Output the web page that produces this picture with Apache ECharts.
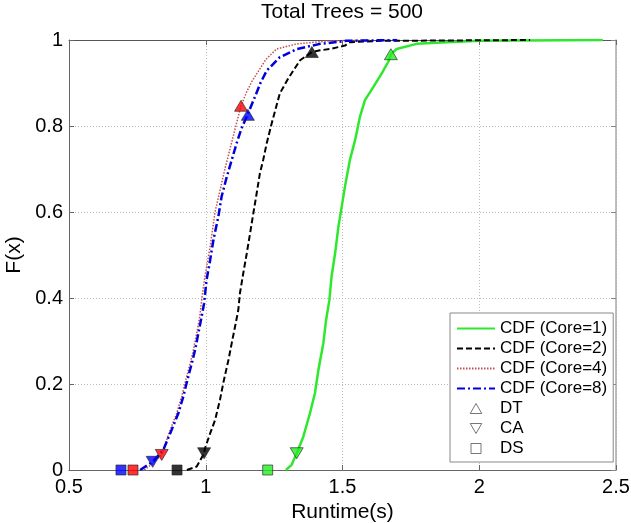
<!DOCTYPE html>
<html>
<head>
<meta charset="utf-8">
<script src="https://cdn.jsdelivr.net/npm/echarts@6/dist/echarts.min.js"></script>
<style>html,body{margin:0;padding:0;background:#fff}#c{width:631px;height:523px}</style>
</head>
<body>
<div id="c"></div>
<script>
// ---- data ----
const seriesNames = ['CDF (Core=1)', 'CDF (Core=2)', 'CDF (Core=4)', 'CDF (Core=8)'];
const markerNames = ['DT', 'CA', 'DS'];
const xTicks = [0.5, 1, 1.5, 2, 2.5];
const yTicks = [0, 0.2, 0.4, 0.6, 0.8, 1];

const core1X = [1.293, 1.314, 1.3325, 1.357, 1.381, 1.399, 1.412, 1.430, 1.440, 1.452, 1.460, 1.473, 1.485, 1.497, 1.509, 1.527, 1.546, 1.564, 1.582, 1.613, 1.643, 1.668, 1.677, 1.698, 1.771, 1.881, 2.003, 2.452];
const core1Y = [0, 0.012, 0.039, 0.078, 0.132, 0.178, 0.233, 0.295, 0.349, 0.395, 0.450, 0.504, 0.566, 0.612, 0.659, 0.721, 0.767, 0.822, 0.860, 0.891, 0.922, 0.950, 0.967, 0.979, 0.991, 0.995, 0.998, 1.0];

const core2X = [0.931, 0.967, 0.994, 0.997, 1.016, 1.034, 1.052, 1.064, 1.083, 1.095, 1.107, 1.119, 1.125, 1.137, 1.150, 1.162, 1.174, 1.186, 1.198, 1.210, 1.223, 1.241, 1.271, 1.302, 1.345, 1.388, 1.418, 1.454, 1.509, 1.527, 1.637, 2.186];
const core2Y = [0, 0.008, 0.039, 0.050, 0.085, 0.116, 0.163, 0.202, 0.256, 0.295, 0.333, 0.372, 0.411, 0.457, 0.504, 0.550, 0.597, 0.643, 0.690, 0.721, 0.760, 0.806, 0.876, 0.911, 0.953, 0.972, 0.976, 0.979, 0.987, 0.995, 0.998, 1.0];

const core4X = [0.775, 0.800, 0.839, 0.868, 0.894, 0.912, 0.930, 0.943, 0.955, 0.967, 0.978, 0.986, 0.997, 1.016, 1.034, 1.052, 1.070, 1.090, 1.110, 1.129, 1.150, 1.170, 1.186, 1.220, 1.259, 1.333, 1.454, 1.600];
const core4Y = [0, 0.012, 0.035, 0.090, 0.132, 0.171, 0.217, 0.248, 0.279, 0.318, 0.357, 0.400, 0.450, 0.519, 0.600, 0.650, 0.700, 0.750, 0.800, 0.847, 0.880, 0.905, 0.921, 0.955, 0.979, 0.991, 0.998, 1.0];

const core8X = [0.760, 0.806, 0.845, 0.875, 0.900, 0.918, 0.936, 0.949, 0.961, 0.973, 0.985, 0.994, 1.003, 1.016, 1.028, 1.046, 1.058, 1.077, 1.095, 1.113, 1.131, 1.150, 1.154, 1.180, 1.200, 1.223, 1.271, 1.333, 1.418, 1.515, 1.700];
const core8Y = [0, 0.019, 0.047, 0.093, 0.132, 0.171, 0.217, 0.248, 0.279, 0.318, 0.357, 0.388, 0.442, 0.488, 0.535, 0.589, 0.636, 0.682, 0.721, 0.760, 0.795, 0.822, 0.826, 0.868, 0.900, 0.929, 0.960, 0.979, 0.991, 0.998, 1.0];

// markers, one value per core (1, 2, 4, 8)
const dtX = [1.677, 1.388, 1.129, 1.154];
const dtY = [0.967, 0.972, 0.847, 0.826];
const caX = [1.3325, 0.994, 0.839, 0.806];
const caY = [0.039, 0.039, 0.035, 0.019];
const dsX = [1.2265, 0.895, 0.734, 0.690];
const dsY = [0, 0, 0, 0];

// ---- style ----
const FONT = '"Liberation Sans", Arial, Helvetica, sans-serif';
const lineColors = ['#2ee82e', '#000000', '#c0504d', '#0000dd'];
const markerColors = ['#22ee22', '#000000', '#ff0000', '#0000ff'];
const lineStyles = [
  {width: 2.5, type: 'solid'},
  {width: 2, type: [6, 3]},
  {width: 1.5, type: [1.5, 1.5]},
  {width: 2.5, type: [8, 3, 2, 3]}
];

const zip = (xs, ys) => xs.map((x, i) => [x, ys[i]]);
const curves = [zip(core1X, core1Y), zip(core2X, core2Y), zip(core4X, core4Y), zip(core8X, core8Y)];

const lineSeries = curves.map((d, i) => ({
  type: 'line', name: seriesNames[i], data: d, symbol: 'none', showSymbol: false,
  lineStyle: Object.assign({color: lineColors[i]}, lineStyles[i]),
  itemStyle: {color: lineColors[i]}, z: 2, animation: false, silent: true
}));

function markerData(xs, ys) {
  return xs.map((x, i) => ({
    value: [x, ys[i]],
    itemStyle: {color: markerColors[i], borderColor: '#222', borderWidth: 0.8}
  }));
}
const downTri = 'path://M0,0L10,0L5,8.66Z';
const upTri = 'path://M5,0L10,8.66L0,8.66Z';
const markerSeries = [
  {type: 'scatter', name: 'DT', data: markerData(dtX, dtY), symbol: 'triangle', symbolSize: [13, 11]},
  {type: 'scatter', name: 'CA', data: markerData(caX, caY), symbol: 'triangle', symbolRotate: 180, symbolSize: [13, 11]},
  {type: 'scatter', name: 'DS', data: markerData(dsX, dsY), symbol: 'rect', symbolSize: 10}
].map(s => Object.assign(s, {z: 5, clip: false, animation: false, silent: true, itemStyle: {color: '#fff', borderColor: '#555', borderWidth: 1}}));

const legendIconStyle = {color: '#fff', borderColor: '#555', borderWidth: 1};
const hiddenSymbol = {color: 'rgba(0,0,0,0)', borderColor: 'rgba(0,0,0,0)', borderWidth: 0, opacity: 0};

const chart = echarts.init(document.getElementById('c'), null, {renderer: 'canvas'});
chart.setOption({
  backgroundColor: '#fff',
  animation: false,
  title: {
    text: 'Total Trees = 500', left: 342, top: 2, padding: 0, textAlign: 'center',
    textStyle: {fontSize: 21, fontWeight: 'normal', color: '#000', fontFamily: FONT}
  },
  grid: {left: 69, right: 15, top: 40, bottom: 53, containLabel: false, outerBoundsMode: 'none'},
  legend: {
    orient: 'vertical', left: 450, top: 313, padding: [7, 6, 5, 6], itemGap: 3,
    itemWidth: 38, itemHeight: 10, selectedMode: false,
    backgroundColor: '#fff', borderColor: '#888', borderWidth: 1, borderRadius: 0,
    textStyle: {fontSize: 17, lineHeight: 17, color: '#000', fontFamily: FONT},
    data: [
      {name: seriesNames[0], itemStyle: hiddenSymbol},
      {name: seriesNames[1], itemStyle: hiddenSymbol},
      {name: seriesNames[2], itemStyle: hiddenSymbol},
      {name: seriesNames[3], itemStyle: hiddenSymbol},
      {name: markerNames[0], icon: upTri, itemStyle: legendIconStyle},
      {name: markerNames[1], icon: downTri, itemStyle: legendIconStyle},
      {name: markerNames[2], icon: 'path://M0,0L8,0L8,8L0,8Z', itemStyle: legendIconStyle}
    ]
  },
  xAxis: [{
    type: 'value', min: xTicks[0], max: xTicks[xTicks.length - 1], interval: xTicks[1] - xTicks[0],
    name: 'Runtime(s)', nameLocation: 'middle', nameGap: 23,
    nameTextStyle: {fontSize: 21, color: '#000', fontFamily: FONT},
    axisLine: {show: true, onZero: false, lineStyle: {color: '#666', width: 1}},
    axisTick: {show: true, inside: true, length: 5, lineStyle: {color: '#666'}},
    axisLabel: {show: true, fontSize: 20, color: '#000', margin: 7, fontFamily: FONT},
    splitLine: {show: true, lineStyle: {color: '#bbb', type: [1, 2], width: 1}}
  }, {
    type: 'value', min: xTicks[0], max: xTicks[xTicks.length - 1], interval: xTicks[1] - xTicks[0], position: 'top',
    axisLine: {show: true, onZero: false, lineStyle: {color: '#555', width: 1}},
    axisTick: {show: true, inside: true, length: 5, lineStyle: {color: '#666'}},
    axisLabel: {show: false}, splitLine: {show: false}
  }],
  yAxis: [{
    type: 'value', min: yTicks[0], max: yTicks[yTicks.length - 1], interval: yTicks[1] - yTicks[0],
    name: 'F(x)', nameLocation: 'middle', nameGap: 41,
    nameTextStyle: {fontSize: 21, color: '#000', fontFamily: FONT},
    axisLine: {show: true, onZero: false, lineStyle: {color: '#666', width: 1}},
    axisTick: {show: true, inside: true, length: 5, lineStyle: {color: '#666'}},
    axisLabel: {show: true, fontSize: 20, color: '#000', margin: 6, fontFamily: FONT},
    splitLine: {show: true, lineStyle: {color: '#bbb', type: [1, 2], width: 1}}
  }, {
    type: 'value', min: yTicks[0], max: yTicks[yTicks.length - 1], interval: yTicks[1] - yTicks[0], position: 'right',
    axisLine: {show: true, onZero: false, lineStyle: {color: '#aaa', width: 1.5}},
    axisTick: {show: true, inside: true, length: 5, lineStyle: {color: '#888'}},
    axisLabel: {show: false}, splitLine: {show: false}
  }],
  series: lineSeries.concat(markerSeries)
});
</script>
</body>
</html>
